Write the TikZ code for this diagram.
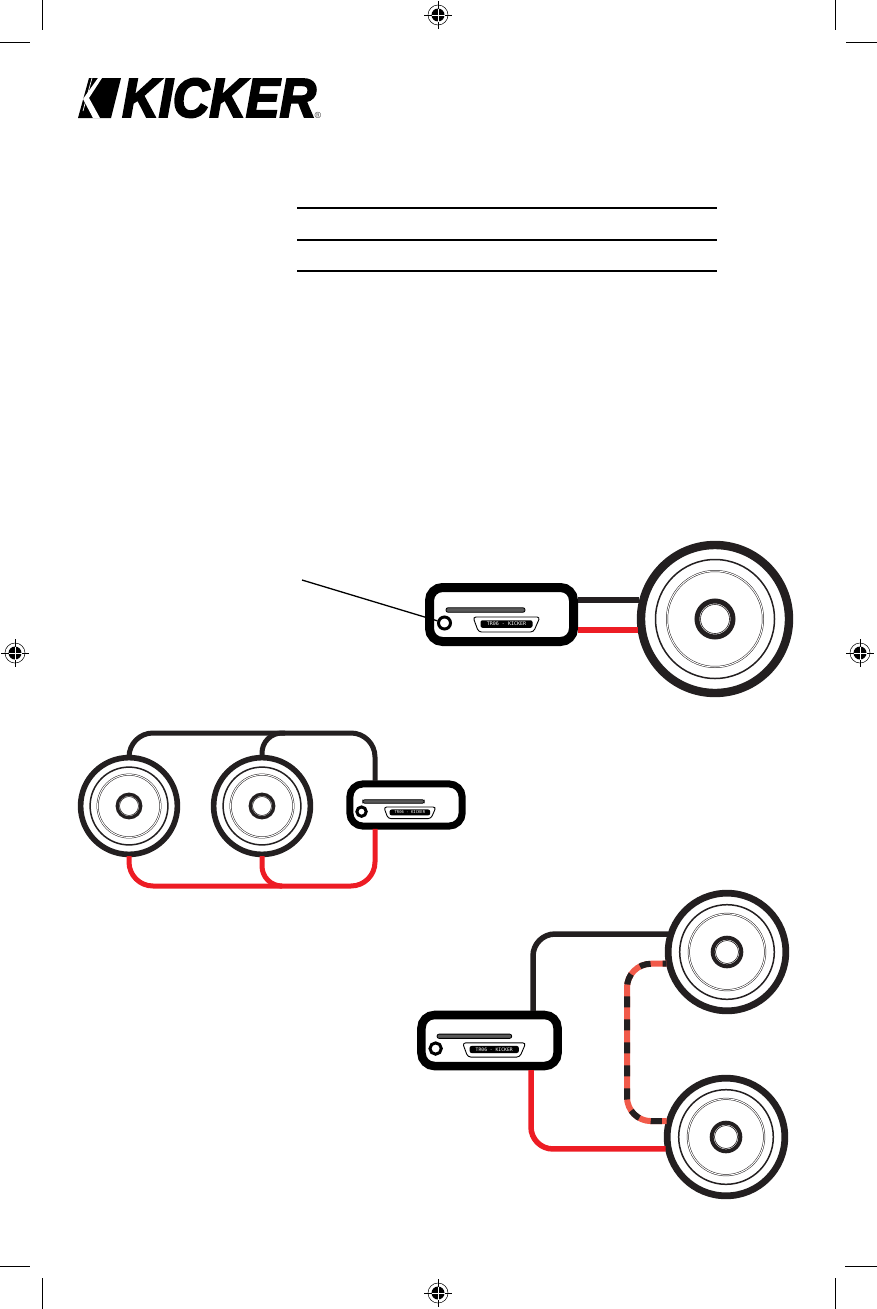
\documentclass[tikz,border=0pt]{standalone}
\usepackage{fontspec}
\newfontfamily\logofont[FakeStretch=0.92,FakeBold=3.5]{Liberation Sans}
\newfontfamily\platefont{DejaVu Sans Mono}
\definecolor{wireblack}{HTML}{231F20}
\definecolor{wirered}{HTML}{ED1C24}
\definecolor{wirecoral}{HTML}{F15A4A}
\tikzset{
    spkring/.style = {circle, draw=wireblack, inner sep=0pt},
    ampbox/.style = {rectangle, draw=black, fill=white, inner sep=0pt, rounded corners=13pt,
        minimum width=144pt, minimum height=54pt},
    blackwire/.style = {draw=wireblack, line width=#1},
    blackwire/.default = 5pt,
    redwire/.style = {draw=wirered, line width=#1},
    redwire/.default = 5pt,
    cropmark/.style = {draw=black, line width=1pt},
    formline/.style = {draw=black, line width=2pt}
}
% speaker: name, centre, scale
\newcommand{\speaker}[3]{
    \begin{scope}[shift={#2}, scale=#3, transform shape]
        \node[spkring, minimum size=148pt, line width=#3*8pt+0.4pt] (#1) at (0,0) {};
        \node[spkring, minimum size=119pt, line width=1.5pt] (#1surround) at (0,0) {};
        \node[spkring, minimum size=96pt, line width=0.5pt, double, double distance=1pt] (#1cone) at (0,0) {};
        \node[spkring, minimum size=36pt, line width=#3*5pt] (#1hub) at (0,0) {};
        \node[spkring, minimum size=29pt, line width=0.6pt] (#1dome) at (0,0) {};
    \end{scope}
}
% amplifier: name, centre, scale
\newcommand{\ampunit}[3]{
    \begin{scope}[shift={#2}, scale=#3, transform shape]
        \node[ampbox, line width=#3*9pt] (#1) at (0,0) {};
        \node[fill=black!65, draw=black, line width=0.8pt, rounded corners=2pt, inner sep=0pt,
            minimum width=79pt, minimum height=4.5pt] (#1slot) at (-16,-4.5) {};
        \node[circle, draw=black, fill=white, line width=3pt, inner sep=0pt,
            minimum size=12pt] (#1knob) at (-57,8.5) {};
        \draw[black, line width=0.9pt, rounded corners=3pt]
            (-28.5,2.5) -- (38.5,2.5) -- (32,17.5) -- (-23,17.5) -- cycle;
        \node[fill=black, text=white, rounded corners=2pt, inner sep=0pt, minimum width=52pt,
            minimum height=7.5pt, font=\fontsize{5}{6}\selectfont\platefont] (#1label) at (5,9.5) {TR06 - KICKER};
    \end{scope}
}
% registration target
\newcommand{\regmark}[2]{
    \node[circle, draw=black, line width=0.5pt, minimum size=20pt, inner sep=0pt] (#1) at #2 {};
    \fill[black] (#1) circle (6.5pt);
    \draw[black, line width=0.7pt] ([yshift=14pt]#1.center) -- ([yshift=-14pt]#1.center)
        ([xshift=-14pt]#1.center) -- ([xshift=14pt]#1.center);
    \draw[white, line width=0.5pt] ([yshift=6.5pt]#1.center) -- ([yshift=-6.5pt]#1.center)
        ([xshift=-6.5pt]#1.center) -- ([xshift=6.5pt]#1.center);
}
\begin{document}
\begin{tikzpicture}[x=1pt, y=-1pt]
    \useasboundingbox (0,0) rectangle (877,1309);

    % crop marks
    \draw[cropmark] (42,0) -- (42,30) (0,42) -- (30,42);
    \draw[cropmark] (835,0) -- (835,30) (846,42) -- (877,42);
    \draw[cropmark] (42,1278) -- (42,1309) (0,1266) -- (30,1266);
    \draw[cropmark] (835,1278) -- (835,1309) (845,1266) -- (877,1266);
    \regmark{regtop}{(438,15)}
    \regmark{regbottom}{(438,1293)}
    \regmark{regleft}{(15,653)}
    \regmark{regright}{(860,653)}

    % logo
    \fill[black] (89,78) -- (121,78) -- (111,118) -- (78,118) -- cycle;
    \fill[white] (98,78) -- (102,78) -- (89,98) -- (100,118) -- (93,118) -- (83,99) -- cycle;
    \draw[white, line width=0.7pt] (92,78) -- (83,111);
    \node[anchor=west, inner sep=0pt, font=\logofont\bfseries\itshape\fontsize{55}{55}\selectfont] (logotext) at (122,98) {KICKER};
    \node[anchor=center, inner sep=0pt, font=\fontsize{9}{9}\selectfont] (logomark) at (318,115) {\textregistered};

    % form lines
    \draw[formline] (297,208) -- (717,208);
    \draw[formline] (297,240) -- (717,240);
    \draw[formline] (297,271) -- (717,271);

    % one speaker
    \speaker{spkone}{(715,619)}{1}
    \ampunit{ampone}{(501.5,614.5)}{1}
    \coordinate (leadstart) at (302,580);
    \draw[black, line width=1.3pt] (leadstart) -- (amponeknob);
    \draw[blackwire=6pt] (ampone.east |- spkone.166) -- (spkone.166);
    \draw[redwire=6pt] (ampone.east |- spkone.188) -- (spkone.188);

    % two speakers, parallel
    \speaker{spka}{(129,806)}{0.654}
    \speaker{spkb}{(262,806)}{0.654}
    \ampunit{amptwo}{(406,805)}{0.78}
    \coordinate (topcorner) at (375,733);
    \coordinate (topjoin) at (285,733);
    \coordinate (botcorner) at (375,886);
    \coordinate (botjoin) at (280,886);
    \draw[blackwire, rounded corners=24pt] (spka.north) |- (topcorner) -- ([xshift=-31pt]amptwo.north);
    \draw[blackwire, rounded corners=20pt] (spkb.north) |- (topjoin);
    \draw[redwire, rounded corners=24pt] (spka.south) |- (botcorner) -- ([xshift=-31pt]amptwo.south);
    \draw[redwire, rounded corners=20pt] (spkb.south) |- (botjoin);

    % two speakers, series
    \speaker{spkc}{(727,952)}{0.795}
    \speaker{spkd}{(726,1137)}{0.795}
    \ampunit{ampthree}{(489.5,1040.5)}{0.945}
    \coordinate (serieshigh) at (533,934);
    \coordinate (serieslow) at (531,1149);
    \coordinate (jumper) at (627,1040);
    \draw[blackwire=5.5pt, rounded corners=22pt] (serieshigh |- ampthree.north) -- (serieshigh) -- (spkc.163);
    \draw[redwire=5.5pt, rounded corners=22pt] (serieslow |- ampthree.south) -- (serieslow) -- (spkd.191);
    \draw[draw=wirecoral, line width=6pt, rounded corners=24pt] (spkc.191) -| (jumper) |- (spkd.165);
    \draw[draw=wireblack, line width=6pt, rounded corners=24pt, dash pattern=on 11pt off 12pt, dash phase=7pt]
        (spkc.191) -| (jumper) |- (spkd.165);
\end{tikzpicture}
\end{document}
